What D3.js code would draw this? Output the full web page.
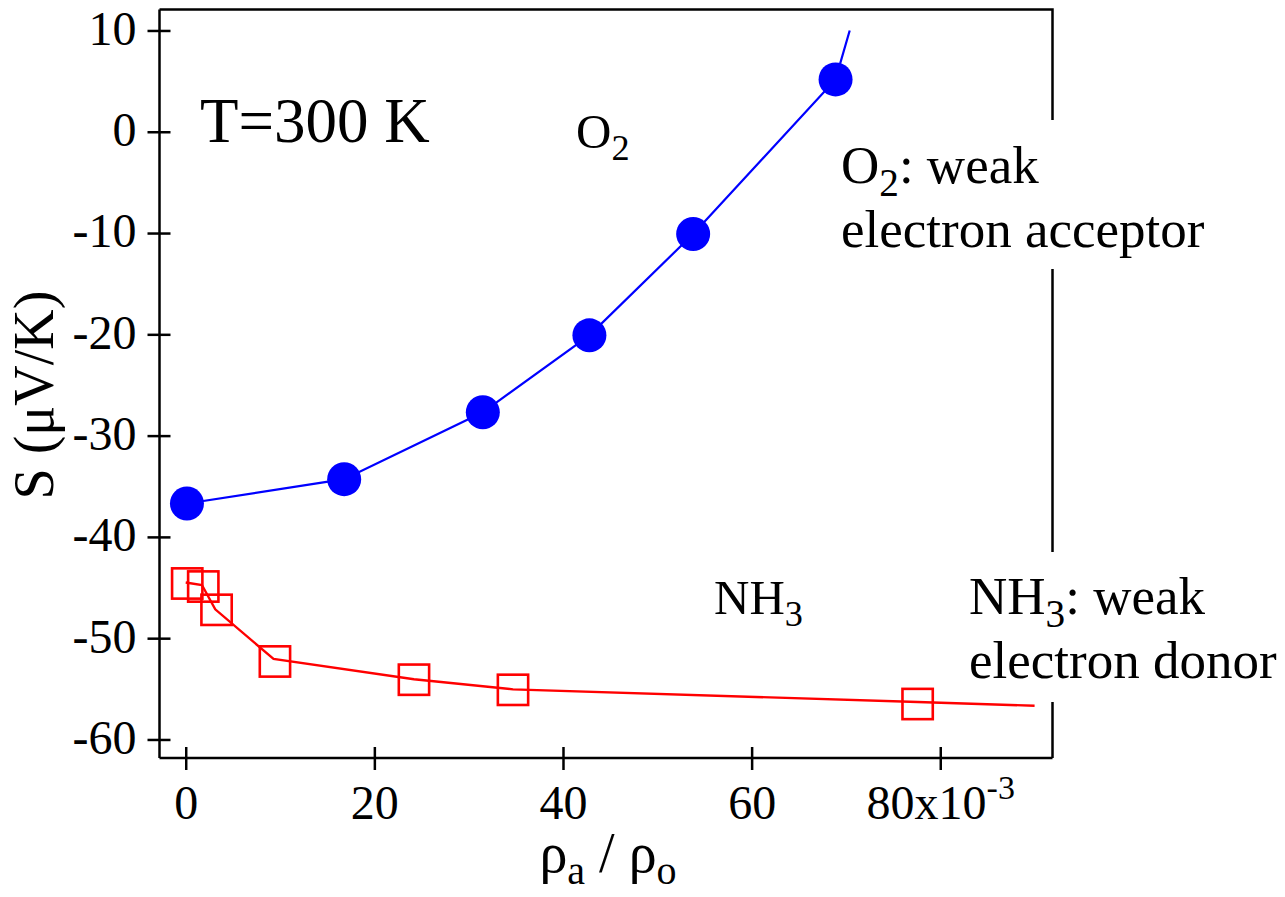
<!DOCTYPE html>
<html><head><meta charset="utf-8">
<script src="https://cdn.jsdelivr.net/npm/d3@7"></script>
<style>body{margin:0;background:#fff}</style>
</head><body>
<svg id="chart" width="1285" height="897"></svg>
<script>
// ---- data ----
const o2X = [0.13, 16.8, 31.5, 42.8, 53.8, 68.9];
const o2Y = [-36.7, -34.3, -27.7, -20.1, -10.1, 5.17];
const o2FitX = [0.13, 16.8, 31.5, 42.8, 53.8, 68.9, 70.4];
const o2FitY = [-36.7, -34.3, -27.7, -20.1, -10.1, 5.17, 10.0];
const nh3X = [0.16, 1.86, 3.27, 9.46, 24.2, 34.7, 77.6];
const nh3Y = [-44.6, -44.9, -47.2, -52.3, -54.1, -55.1, -56.5];
const nh3FitX = [0, 1.72, 3.13, 9.31, 24.2, 34.7, 77.6, 90.0];
const nh3FitY = [-44.5, -44.75, -47.15, -52.05, -54.05, -55.05, -56.3, -56.67];
const xTicks = [0, 20, 40, 60, 80];
const xTickText = ["0", "20", "40", "60", "80x10"];
const xTickSup = ["", "", "", "", "-3"];
const yTicks = [10, 0, -10, -20, -30, -40, -50, -60];
const yTickText = ["10", "0", "-10", "-20", "-30", "-40", "-50", "-60"];

const FONT = "'Liberation Serif', 'Times New Roman', serif";
const svg = d3.select("#chart");
const x = d3.scaleLinear().domain([-2.78, 91.9]).range([159.5, 1052.5]);
const y = d3.scaleLinear().domain([-61.83, 12.07]).range([758, 9.5]);

// frame top & right
const frame = svg.append("g").attr("stroke", "#000").attr("stroke-width", 2.5).attr("fill", "none");
frame.append("path").attr("d", `M${x.range()[0]},${y.range()[1]}H${x.range()[1]}V${y.range()[0]}`);

// axes
const yAxis = svg.append("g").attr("transform", `translate(${x.range()[0]},0)`)
  .call(d3.axisLeft(y).tickValues(yTicks).tickFormat((d, i) => yTickText[i]).tickSize(12).tickPadding(11));
const xAxis = svg.append("g").attr("transform", `translate(0,${y.range()[0]})`)
  .call(d3.axisBottom(x).tickValues(xTicks).tickFormat((d, i) => xTickText[i]).tickSize(12).tickPadding(15));
[yAxis, xAxis].forEach(g => {
  g.select(".domain").attr("stroke-width", 2.5).attr("stroke", "#000");
  g.selectAll(".tick line").attr("stroke-width", 2.5).attr("stroke", "#000");
  g.selectAll(".tick text").attr("font-family", FONT).attr("font-size", 48).attr("fill", "#000");
});
yAxis.select(".domain").attr("d", `M0,${y.range()[0]}V${y.range()[1]}`);
xAxis.select(".domain").attr("d", `M${x.range()[0]},0H${x.range()[1]}`);
yAxis.selectAll(".tick line").attr("x1", 11).attr("x2", -12);
yAxis.selectAll(".tick text").attr("dy", "0.29em");
xAxis.selectAll(".tick line").attr("y1", -11).attr("y2", 12);
xAxis.selectAll(".tick text").each(function (d, i) {
  if (xTickSup[i]) {
    d3.select(this).append("tspan").attr("dy", -20).attr("font-size", 34).text(xTickSup[i]);
  }
});

// white boxes behind side labels (cover right frame)
svg.append("rect").attr("x", 834).attr("y", 120).attr("width", 380).attr("height", 149).attr("fill", "#fff");
svg.append("rect").attr("x", 960).attr("y", 552).attr("width", 325).attr("height", 150).attr("fill", "#fff");

// lines
const line = d3.line().x(d => x(d[0])).y(d => y(d[1]));
svg.append("path").datum(o2FitX.map((v, i) => [v, o2FitY[i]]))
  .attr("d", line).attr("fill", "none").attr("stroke", "#0000ff").attr("stroke-width", 2.2);
svg.append("path").datum(nh3FitX.map((v, i) => [v, nh3FitY[i]]))
  .attr("d", line).attr("fill", "none").attr("stroke", "#ff0000").attr("stroke-width", 2.4);

// markers
svg.append("g").selectAll("circle").data(o2X.map((v, i) => [v, o2Y[i]])).join("circle")
  .attr("cx", d => x(d[0])).attr("cy", d => y(d[1])).attr("r", 17).attr("fill", "#0000ff");
const sq = 30.3;
svg.append("g").selectAll("rect").data(nh3X.map((v, i) => [v, nh3Y[i]])).join("rect")
  .attr("x", d => x(d[0]) - sq / 2).attr("y", d => y(d[1]) - sq / 2)
  .attr("width", sq).attr("height", sq)
  .attr("fill", "none").attr("stroke", "#ff0000").attr("stroke-width", 2.6);

// text helpers
function chem(g, xx, yy, size, parts) {
  const t = g.append("text").attr("x", xx).attr("y", yy).attr("font-family", FONT)
    .attr("font-size", size).attr("fill", "#000");
  parts.forEach(p => {
    if (p.sub) {
      t.append("tspan").attr("font-size", size * 0.74).attr("dy", size * 0.25).text(p.sub);
    } else {
      t.append("tspan").attr("dy", p.after ? -size * 0.25 : 0).text(p.t);
    }
  });
  return t;
}

svg.append("text").attr("x", 200).attr("y", 142).attr("font-family", FONT).attr("font-size", 63).text("T=300 K");
chem(svg, 576, 148, 49, [{t: "O"}, {sub: "2"}]);
chem(svg, 714, 614, 49, [{t: "NH"}, {sub: "3"}]);
chem(svg, 841, 183, 53, [{t: "O"}, {sub: "2"}, {t: ": weak", after: true}]);
svg.append("text").attr("x", 841).attr("y", 246.5).attr("font-family", FONT).attr("font-size", 53).text("electron acceptor");
chem(svg, 969, 614, 53, [{t: "NH"}, {sub: "3"}, {t: ": weak", after: true}]);
svg.append("text").attr("x", 969).attr("y", 677.5).attr("font-family", FONT).attr("font-size", 53).text("electron donor");

// axis titles
svg.append("text").attr("transform", "translate(53,395) rotate(-90)").attr("text-anchor", "middle")
  .attr("font-family", FONT).attr("font-size", 56).text("S (μV/K)");
const xt = svg.append("text").attr("x", 608).attr("y", 872).attr("text-anchor", "middle")
  .attr("font-family", FONT).attr("font-size", 56);
xt.append("tspan").text("ρ");
xt.append("tspan").attr("font-size", 40).attr("dy", 12).text("a");
xt.append("tspan").attr("dy", -12).text(" / ρ");
xt.append("tspan").attr("font-size", 40).attr("dy", 12).text("o");
</script>
</body></html>
